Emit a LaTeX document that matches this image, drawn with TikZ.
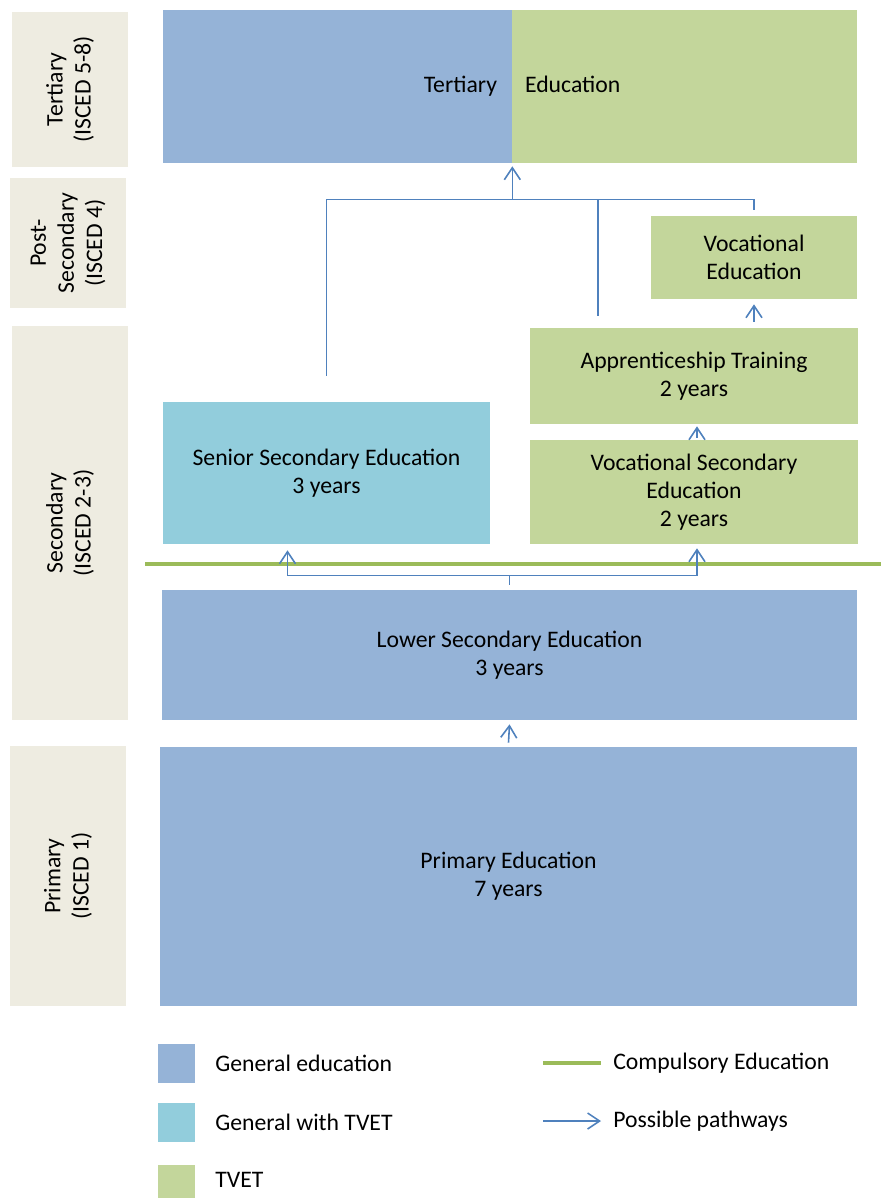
\documentclass[tikz,border=0pt]{standalone}
\usepackage{fontspec}
\setmainfont{Carlito}
\usetikzlibrary{arrows.meta}
\definecolor{genblue}{HTML}{95B3D7}
\definecolor{mixteal}{HTML}{92CDDC}
\definecolor{tvetgreen}{HTML}{C3D69B}
\definecolor{compgreen}{HTML}{9BBB59}
\definecolor{pathblue}{HTML}{4F81BD}
\definecolor{lvlbeige}{HTML}{EEECE1}
\tikzset{
  box/.style={inner sep=0pt, align=center, text=black},
  gen/.style={box, fill=genblue},
  mix/.style={box, fill=mixteal},
  tvet/.style={box, fill=tvetgreen},
  lvl/.style={box, fill=lvlbeige, rotate=90},
  lbl/.style={inner sep=0pt, anchor=west},
  route/.style={draw=pathblue, line width=0.9pt},
  pathway/.style={route, -{Straight Barb[length=0.24cm, width=0.32cm]}},
  compulsory/.style={draw=compgreen, line width=2.8pt}
}

\begin{document}
\begin{tikzpicture}[x=0.02cm, y=-0.02cm, font=\fontsize{13.5}{16}\selectfont]
\useasboundingbox (0,0) rectangle (881,1198);
\node[lvl, minimum width=3.1cm, minimum height=2.32cm] (lvltert) at (70,89.5) {Tertiary\\(ISCED 5-8)};
\node[lvl, minimum width=2.6cm, minimum height=2.32cm] (lvlpost) at (68,243) {Post-\\Secondary\\(ISCED 4)};
\node[lvl, minimum width=7.88cm, minimum height=2.32cm] (lvlsec) at (70,523) {Secondary\\(ISCED 2-3)};
\node[lvl, minimum width=5.2cm, minimum height=2.32cm] (lvlprim) at (68,876) {Primary\\(ISCED 1)};

\node[gen, minimum width=6.98cm, minimum height=3.06cm] (tertgen) at (337.5,86.5) {};
\node[tvet, minimum width=6.9cm, minimum height=3.06cm] (terttvet) at (684.5,86.5) {};
\node[inner sep=0pt, anchor=base east] (terttxt) at ([xshift=-0.3cm,yshift=-0.12cm]tertgen.east) {Tertiary};
\node[inner sep=0pt, anchor=base west] (edutxt) at ([xshift=0.26cm,yshift=-0.12cm]terttvet.west) {Education};
\node[tvet, minimum width=4.12cm, minimum height=1.66cm] (voced) at (754,257.5) {Vocational\\Education};
\node[tvet, minimum width=6.56cm, minimum height=1.92cm] (appr) at (694,376) {Apprenticeship Training\\2 years};
\node[tvet, minimum width=6.56cm, minimum height=2.08cm] (vocsec) at (694,492) {Vocational Secondary\\Education\\2 years};
\node[mix, minimum width=6.54cm, minimum height=2.84cm] (senior) at (326.5,473) {Senior Secondary Education\\3 years};
\node[gen, minimum width=13.9cm, minimum height=2.6cm] (lower) at (509.5,655) {Lower Secondary Education\\3 years};
\node[gen, minimum width=13.94cm, minimum height=5.18cm] (primary) at (508.5,876.5) {Primary Education\\7 years};

\coordinate (cla) at (145,564);
\coordinate (clb) at (881,564);
\path[compulsory] (cla) -- (clb);

\coordinate (jt) at ([yshift=-0.72cm]tertgen.south east);
\path[pathway] (jt) -- ([yshift=-0.06cm]tertgen.south east);
\path[route] ([yshift=0.52cm]senior.north) |- (jt) -| ([yshift=0.12cm]voced.north);
\path[route] ([xshift=-1.92cm,yshift=0.24cm]appr.north) |- (jt);
\path[pathway] ([yshift=0.12cm]voced.south |- appr.north) -- ([yshift=-0.1cm]voced.south);
\path[pathway] ([xshift=0.06cm,yshift=0.04cm]vocsec.north) -- ([xshift=0.06cm,yshift=-0.04cm]appr.south);
\coordinate (js) at ([yshift=0.28cm]lower.north);
\path[route] ([yshift=0.1cm]lower.north) -- (js);
\path[pathway] (js) -| ([xshift=-0.78cm,yshift=-0.12cm]senior.south);
\path[pathway] (js) -| ([xshift=0.06cm,yshift=-0.08cm]vocsec.south);
\path[pathway] ([yshift=0.08cm]primary.north) -- ([yshift=-0.08cm]lower.south);

\node[gen, minimum width=0.74cm, minimum height=0.78cm] (keygen) at (176.5,1063.5) {};
\node[mix, minimum width=0.74cm, minimum height=0.78cm] (keymix) at (176.5,1122.5) {};
\node[tvet, minimum width=0.74cm, minimum height=0.66cm] (keytvet) at (176.5,1181.5) {};
\node[lbl] (txtgen) at (215,1063) {General education};
\node[lbl] (txtmix) at (215,1122) {General with TVET};
\node[lbl] (txttvet) at (215,1180) {TVET};
\coordinate (compa) at (543,1063);
\coordinate (compb) at (601,1063);
\path[compulsory] (compa) -- (compb);
\node[lbl] (txtcomp) at (613,1063) {Compulsory Education};
\coordinate (pwa) at (543,1121);
\coordinate (pwb) at (601,1121);
\path[pathway] (pwa) -- (pwb);
\node[lbl] (txtpw) at (613,1121) {Possible pathways};
\end{tikzpicture}
\end{document}
